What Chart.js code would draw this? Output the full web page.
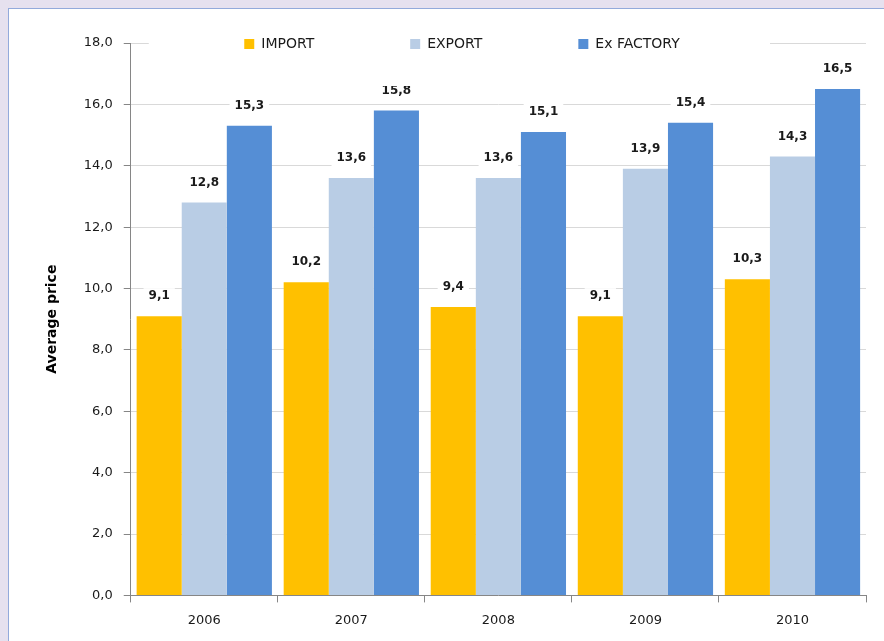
<!DOCTYPE html>
<html>
<head>
<meta charset="utf-8">
<script src="https://cdn.jsdelivr.net/npm/chart.js@4.4.1/dist/chart.umd.min.js"></script>
<style>
html, body { margin: 0; padding: 0; background: #e6e1ef; overflow: hidden; }
#frame { position: absolute; left: 8px; top: 8px; width: 900px; height: 660px; background: #fff; border-left: 1px solid #93aadb; border-top: 1px solid #93aadb; box-sizing: border-box; }
#wrap { position: absolute; left: 0; top: 0; width: 884px; height: 641px; }
</style>
</head>
<body>
<div id="frame"></div>
<div id="wrap"><canvas id="myChart"></canvas></div>
<script>
const years = ['2006', '2007', '2008', '2009', '2010'];
const importP = [9.1, 10.2, 9.4, 9.1, 10.3];
const exportP = [12.8, 13.6, 13.6, 13.9, 14.3];
const factoryP = [15.3, 15.8, 15.1, 15.4, 16.5];
const yMax = 18;
const yStep = 2;

const fmt = v => v.toFixed(1).replace('.', ',');

// value labels with white boxes + Excel style legend sitting on the top gridline
const barLabels = {
    id: 'barLabels',
    afterLayout(chart) {
        const lg = chart.legend;
        const pad = lg.options.labels.padding;
        lg.top = chart.chartArea.top + 1 - pad - 7;
        lg.bottom = chart.chartArea.top + 30;
        lg.height = lg.bottom - lg.top;
        lg.left += 10;
        lg.right += 10;
    },
    afterDatasetsDraw(chart) {
        const ctx = chart.ctx;
        ctx.save();
        ctx.font = 'bold 12px "DejaVu Sans"';
        ctx.textAlign = 'center';
        ctx.textBaseline = 'middle';
        chart.data.datasets.forEach((ds, i) => {
            chart.getDatasetMeta(i).data.forEach((bar, j) => {
                const txt = fmt(ds.data[j]);
                const w = ctx.measureText(txt).width + 10;
                const y = bar.y - 20;
                ctx.fillStyle = '#fff';
                ctx.fillRect(bar.x - w / 2, y - 8, w, 16);
                ctx.fillStyle = '#1a1a1a';
                ctx.fillText(txt, bar.x, y);
            });
        });
        ctx.restore();
    },
    afterDraw(chart) {
        const a = chart.chartArea;
        const ctx = chart.ctx;
        ctx.save();
        ctx.fillStyle = '#fff';
        ctx.fillRect(a.left + 18, a.top - 12, a.right - a.left - 114, 55);
        ctx.restore();
        chart.legend.draw();
    }
};

const ctx = document.getElementById('myChart');

new Chart(ctx, {
    type: 'bar',
    data: {
        labels: years,
        datasets: [{
            label: 'IMPORT',
            data: importP,
            backgroundColor: '#ffc000',
            borderWidth: 0
        }, {
            label: 'EXPORT',
            data: exportP,
            backgroundColor: '#b9cde5',
            borderWidth: 0
        }, {
            label: 'Ex FACTORY',
            data: factoryP,
            backgroundColor: '#558ed5',
            borderWidth: 0
        }]
    },
    options: {
        responsive: true,
        maintainAspectRatio: false,
        animation: false,
        datasets: {
            bar: { barPercentage: 1, categoryPercentage: 0.92 }
        },
        layout: {
            padding: { left: 38, top: 42, right: 18, bottom: 3 }
        },
        plugins: {
            tooltip: { enabled: false },
            legend: {
                position: 'top',
                maxHeight: 1,
                labels: {
                    boxWidth: 10,
                    boxHeight: 10,
                    padding: 96,
                    color: '#1a1a1a',
                    font: { family: '"DejaVu Sans"', size: 14 }
                }
            }
        },
        scales: {
            x: {
                grid: {
                    drawOnChartArea: false,
                    offset: true,
                    tickColor: '#868686',
                    tickLength: 7
                },
                border: { color: '#868686' },
                ticks: {
                    color: '#1a1a1a',
                    padding: 10,
                    font: { family: '"DejaVu Sans"', size: 13 }
                }
            },
            y: {
                min: 0,
                max: yMax,
                grid: {
                    color: '#d9d9d9',
                    tickColor: '#868686',
                    tickLength: 7
                },
                border: { color: '#868686' },
                ticks: {
                    stepSize: yStep,
                    color: '#1a1a1a',
                    padding: 11,
                    font: { family: '"DejaVu Sans"', size: 13 },
                    callback: v => fmt(v)
                },
                title: {
                    display: true,
                    text: 'Average price',
                    color: '#000',
                    padding: { top: 6, bottom: 12 },
                    font: { family: '"DejaVu Sans"', size: 14, weight: 'bold' }
                }
            }
        }
    },
    plugins: [barLabels]
});
</script>
</body>
</html>
